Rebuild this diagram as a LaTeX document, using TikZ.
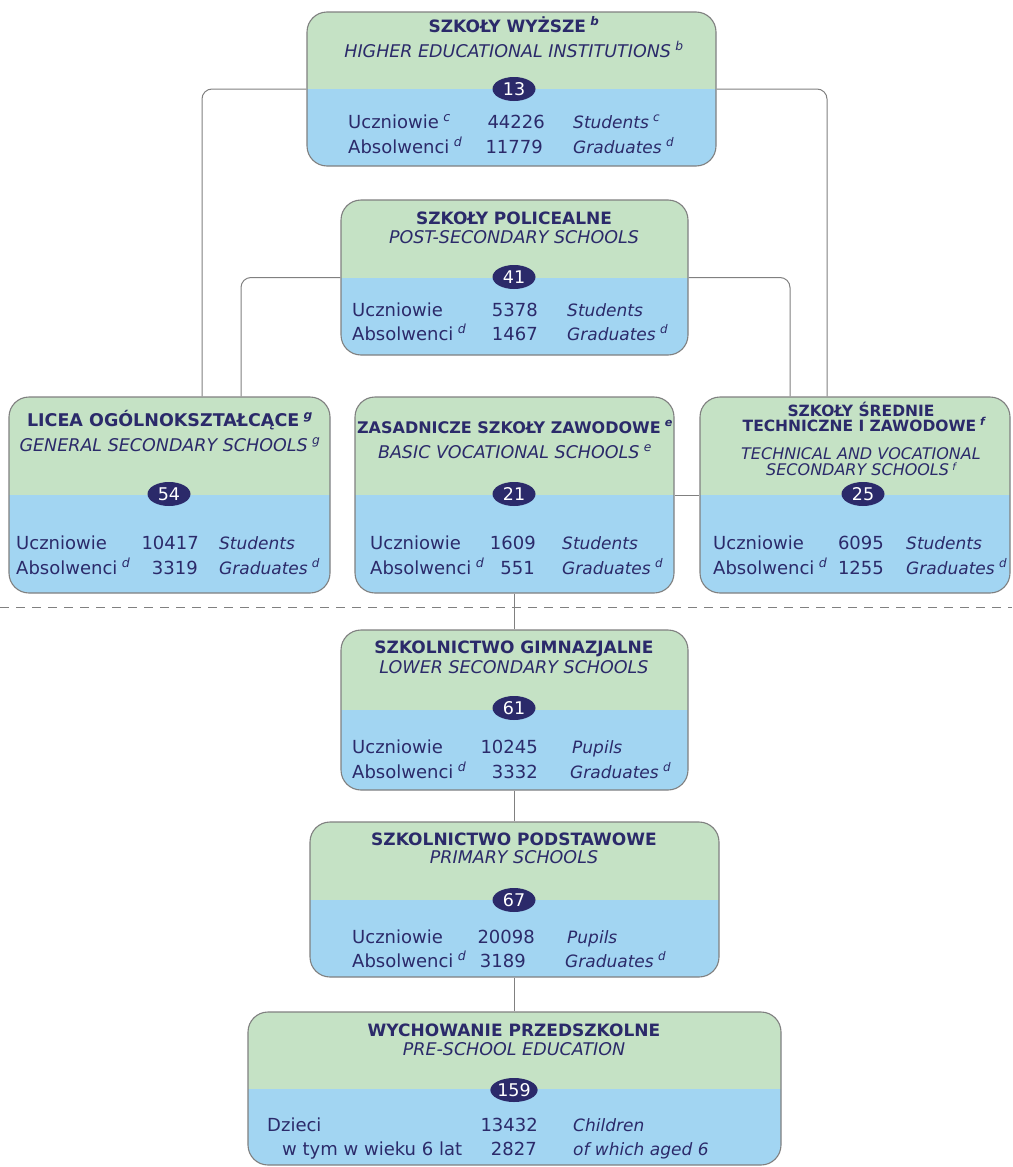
\documentclass[tikz,border=0pt]{standalone}
\usepackage{fontspec}
\setmainfont{DejaVu Sans}
\usetikzlibrary{shapes.geometric}
\definecolor{ink}{HTML}{2B2A6A}
\definecolor{topgreen}{HTML}{C5E2C5}
\definecolor{lowblue}{HTML}{A2D5F2}
\definecolor{edgegray}{HTML}{808080}
\tikzstyle{schoolbox}=[draw=edgegray, line width=1.1pt, rounded corners=20pt, fill=lowblue, inner sep=0pt,
  path picture={\fill[topgreen, sharp corners] (path picture bounding box.north west) rectangle (path picture bounding box.east);}]
\tikzstyle{badge}=[ellipse, fill=ink, text=white, inner sep=0pt, minimum width=43pt, minimum height=24pt,
  font=\fontsize{17.5}{17.5}\selectfont]
\tikzstyle{title}=[text=ink, inner sep=0pt, anchor=base, text height=11pt, text depth=1pt,
  font=\fontsize{17}{17}\selectfont\bfseries]
\tikzstyle{subtitle}=[text=ink, inner sep=0pt, anchor=base, text height=11pt, text depth=1pt,
  font=\fontsize{17.5}{17.5}\selectfont\itshape]
\tikzstyle{tighttitle}=[title, text height=10pt, text depth=0pt, font=\fontsize{15.5}{15.5}\selectfont\bfseries]
\tikzstyle{tightsub}=[subtitle, text height=10pt, text depth=0pt, font=\fontsize{16}{16}\selectfont\itshape]
\tikzstyle{cell}=[text=ink, inner sep=0pt, font=\fontsize{18}{18}\selectfont]
\tikzstyle{cellit}=[cell, font=\fontsize{17}{17}\selectfont\itshape]
\tikzstyle{link}=[draw=edgegray, line width=1pt, rounded corners=10pt]
\newcommand{\nt}[1]{\hspace{0.25em}\textsuperscript{\itshape #1}}
\newcommand{\ntlow}[1]{\hspace{0.2em}\raisebox{0.3em}{\fontsize{10}{10}\selectfont\itshape #1}}
\newcommand{\schoolbox}{\node[schoolbox]}
\newcommand{\badge}{\node[badge]}
% #1 name, #2 baseline y, #3 x label, #4 label, #5 x number, #6 number, #7 x english, #8 english
\newcommand{\datarow}[8]{%
  \node[cell, anchor=base west] (#1l) at (#3,#2) {#4};
  \node[cell, anchor=base east] (#1n) at (#5,#2) {#6};
  \node[cellit, anchor=base west] (#1e) at (#7,#2) {#8};}

\begin{document}
\begin{tikzpicture}[x=1pt, y=-1pt]
\useasboundingbox (0,0) rectangle (1012,1167);

% boxes
\schoolbox[minimum width=409pt, minimum height=154pt] (hi) at (511.5,89) {};
\schoolbox[minimum width=347pt, minimum height=155pt] (pol) at (514.5,277.5) {};
\schoolbox[minimum width=321pt, minimum height=196pt] (lic) at (169.5,495) {};
\schoolbox[minimum width=319pt, minimum height=196pt] (zsz) at (514.5,495) {};
\schoolbox[minimum width=310pt, minimum height=196pt] (tech) at (855,495) {};
\schoolbox[minimum width=347pt, minimum height=160pt] (gim) at (514.5,710) {};
\schoolbox[minimum width=409pt, minimum height=155pt] (pod) at (514.5,899.5) {};
\schoolbox[minimum width=533pt, minimum height=153pt] (prz) at (514.5,1088.5) {};

% connectors
\coordinate (cutl) at (0,607);
\coordinate (cutr) at (1012,607);
\draw[edgegray, line width=0.8pt, dash pattern=on 9pt off 7pt] (cutl) -- (cutr);
\draw[link] (hi.west) -| ([xshift=32.5pt]lic.north);
\draw[link] (hi.east) -| ([xshift=-28pt]tech.north);
\draw[link] (pol.west) -| ([xshift=71.5pt]lic.north);
\draw[link] (pol.east) -| ([xshift=-65pt]tech.north);
\draw[link] (zsz.east) -- (tech.west);
\draw[link] (zsz.south) -- (gim.north);
\draw[link] (gim.south) -- (pod.north);
\draw[link] (pod.south) -- (prz.north);

% headings
\node[title] (hit) at (514,32) {SZKOŁY WYŻSZE\nt{b}};
\node[subtitle] (his) at (514,57) {HIGHER EDUCATIONAL INSTITUTIONS\nt{b}};
\node[title] (polt) at (514,224) {SZKOŁY POLICEALNE};
\node[subtitle] (pols) at (514,243) {POST-SECONDARY SCHOOLS};
\node[title, font=\fontsize{17.5}{17.5}\selectfont\bfseries] (lict) at (170,426) {LICEA OGÓLNOKSZTAŁCĄCE\nt{g}};
\node[subtitle] (lics) at (170,451) {GENERAL SECONDARY SCHOOLS\nt{g}};
\node[title, font=\fontsize{16}{16}\selectfont\bfseries] (zszt) at (515,433) {ZASADNICZE SZKOŁY ZAWODOWE\nt{e}};
\node[subtitle] (zszs) at (515,458) {BASIC VOCATIONAL SCHOOLS\nt{e}};
\node[tighttitle] (techt) at (861,416) {SZKOŁY ŚREDNIE};
\node[tighttitle] (techu) at (864,431) {TECHNICZNE I ZAWODOWE\nt{f}};
\node[tightsub] (techs) at (861,459) {TECHNICAL AND VOCATIONAL};
\node[tightsub] (techv) at (861,475) {SECONDARY SCHOOLS\ntlow{f}};
\node[title] (gimt) at (514,653) {SZKOLNICTWO GIMNAZJALNE};
\node[subtitle] (gims) at (514,673) {LOWER SECONDARY SCHOOLS};
\node[title] (podt) at (514,845) {SZKOLNICTWO PODSTAWOWE};
\node[subtitle] (pods) at (514,863) {PRIMARY SCHOOLS};
\node[title] (przt) at (514,1036) {WYCHOWANIE PRZEDSZKOLNE};
\node[subtitle] (przs) at (514,1055) {PRE-SCHOOL EDUCATION};

% counts
\badge (hib) at (514,89) {13};
\badge (polb) at (514,277) {41};
\badge (licb) at (169,494) {54};
\badge (zszb) at (514,494) {21};
\badge (techb) at (863,494) {25};
\badge (gimb) at (514,708) {61};
\badge (podb) at (514,900) {67};
\badge (przb) at (514,1090) {159};

% data
\datarow{hia}{128}{348}{Uczniowie\nt{c}}{545}{44226}{573}{Students\nt{c}}
\datarow{hid}{153}{348}{Absolwenci\nt{d}}{543}{11779}{573}{Graduates\nt{d}}
\datarow{pola}{316}{352}{Uczniowie}{538}{5378}{567}{Students}
\datarow{pold}{340}{352}{Absolwenci\nt{d}}{538}{1467}{567}{Graduates\nt{d}}
\datarow{lica}{549}{16}{Uczniowie}{199}{10417}{219}{Students}
\datarow{licd}{574}{16}{Absolwenci\nt{d}}{198}{3319}{219}{Graduates\nt{d}}
\datarow{zsza}{549}{370}{Uczniowie}{536}{1609}{562}{Students}
\datarow{zszd}{574}{370}{Absolwenci\nt{d}}{535}{551}{562}{Graduates\nt{d}}
\datarow{techa}{549}{713}{Uczniowie}{884}{6095}{906}{Students}
\datarow{techd}{574}{713}{Absolwenci\nt{d}}{884}{1255}{906}{Graduates\nt{d}}
\datarow{gima}{753}{352}{Uczniowie}{538}{10245}{572}{Pupils}
\datarow{gimd}{778}{352}{Absolwenci\nt{d}}{538}{3332}{570}{Graduates\nt{d}}
\datarow{poda}{943}{352}{Uczniowie}{535}{20098}{567}{Pupils}
\datarow{podd}{967}{352}{Absolwenci\nt{d}}{526}{3189}{565}{Graduates\nt{d}}
\datarow{prza}{1131}{267}{Dzieci}{538}{13432}{573}{Children}
\datarow{przd}{1155}{282}{w tym w wieku 6 lat}{537}{2827}{573}{of which aged 6}
\end{tikzpicture}
\end{document}
